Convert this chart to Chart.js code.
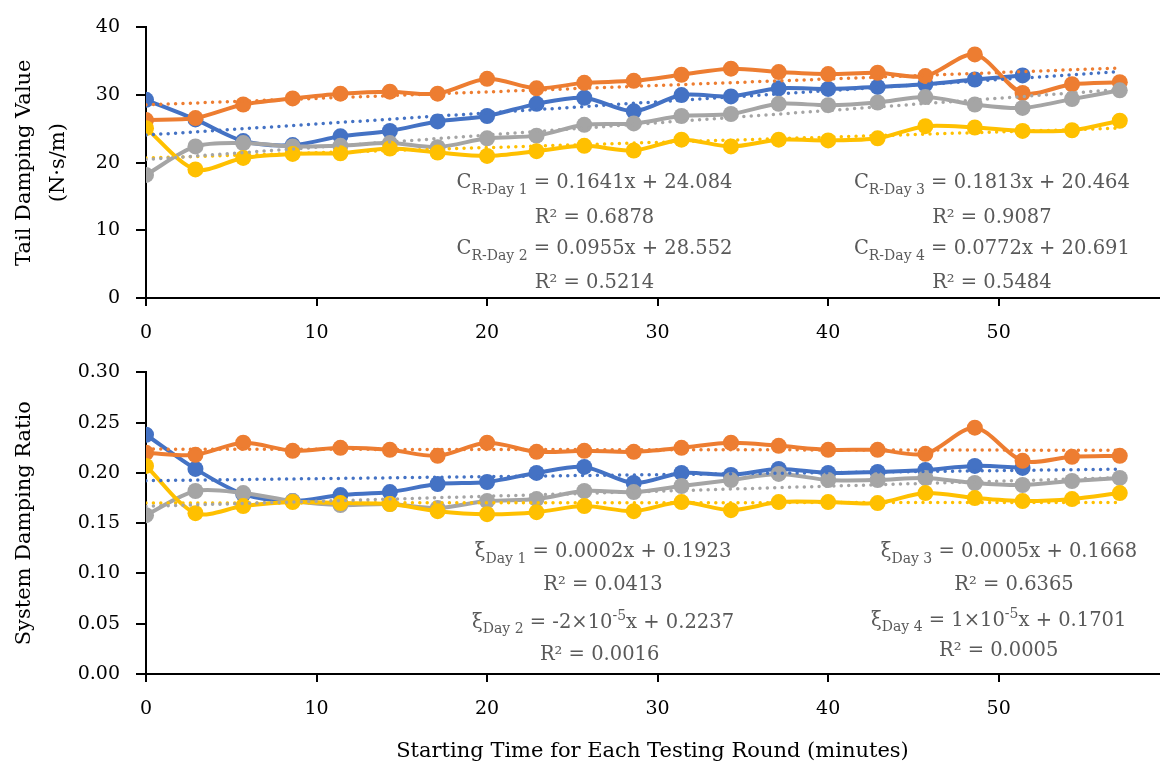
<!DOCTYPE html>
<html>
<head>
<meta charset="utf-8">
<script src="https://cdn.jsdelivr.net/npm/chart.js@4.4.1/dist/chart.umd.min.js"></script>
<style>
    html, body { margin: 0; padding: 0; background: #fff; overflow: hidden; }
    .panel { position: relative; width: 1167px; }
    #tail-panel { height: 345px; }
    #ratio-panel { height: 427px; }
</style>
</head>
<body>
<div class="panel" id="tail-panel"><canvas id="tailChart"></canvas></div>
<div class="panel" id="ratio-panel"><canvas id="ratioChart"></canvas></div>
<script>
// starting time of each testing round (minutes)
const startTimes = [0, 2.9, 5.7, 8.6, 11.4, 14.3, 17.1, 20.0, 22.9, 25.7, 28.6, 31.4, 34.3, 37.1, 40.0, 42.9, 45.7, 48.6, 51.4, 54.3, 57.1];
const dayNames = ['Day 1', 'Day 2', 'Day 3', 'Day 4'];
const dayColors = ['#4472C4', '#ED7D31', '#A5A5A5', '#FFC000'];

// tail damping value C_R (N·s/m)
const tailDay1 = [29.3, 26.4, 23.2, 22.6, 23.9, 24.7, 26.1, 26.9, 28.7, 29.6, 27.6, 30.0, 29.8, 31.0, 30.9, 31.2, 31.6, 32.3, 32.9];
const tailDay2 = [26.3, 26.6, 28.6, 29.5, 30.2, 30.5, 30.2, 32.4, 31.0, 31.8, 32.1, 33.0, 33.9, 33.4, 33.1, 33.3, 32.8, 36.0, 30.3, 31.6, 31.9];
const tailDay3 = [18.2, 22.4, 22.9, 22.4, 22.5, 22.9, 22.3, 23.6, 24.0, 25.6, 25.8, 26.9, 27.2, 28.7, 28.5, 28.9, 29.7, 28.6, 28.1, 29.4, 30.7];
const tailDay4 = [25.1, 19.0, 20.7, 21.3, 21.4, 22.1, 21.5, 21.0, 21.7, 22.5, 21.8, 23.4, 22.4, 23.4, 23.3, 23.6, 25.4, 25.2, 24.7, 24.8, 26.2];

// system damping ratio
const ratioDay1 = [0.238, 0.204, 0.179, 0.172, 0.178, 0.181, 0.189, 0.191, 0.200, 0.206, 0.190, 0.200, 0.198, 0.204, 0.200, 0.201, 0.203, 0.207, 0.205];
const ratioDay2 = [0.220, 0.218, 0.230, 0.222, 0.225, 0.223, 0.217, 0.230, 0.221, 0.222, 0.221, 0.225, 0.230, 0.227, 0.223, 0.223, 0.219, 0.245, 0.212, 0.216, 0.217];
const ratioDay3 = [0.158, 0.182, 0.180, 0.172, 0.168, 0.169, 0.165, 0.172, 0.174, 0.182, 0.181, 0.187, 0.193, 0.199, 0.193, 0.193, 0.195, 0.190, 0.188, 0.192, 0.195];
const ratioDay4 = [0.207, 0.160, 0.167, 0.171, 0.170, 0.169, 0.162, 0.159, 0.161, 0.167, 0.162, 0.171, 0.163, 0.171, 0.171, 0.170, 0.180, 0.175, 0.172, 0.174, 0.180];

// linear fits
const tailSlopes = [0.1641, 0.0955, 0.1813, 0.0772];
const tailIntercepts = [24.084, 28.552, 20.464, 20.691];
const tailR2 = [0.6878, 0.5214, 0.9087, 0.5484];
const ratioSlopes = [0.0002, -0.00002, 0.0005, 0.00001];
const ratioIntercepts = [0.1923, 0.2237, 0.1668, 0.1701];
const ratioR2 = [0.0413, 0.0016, 0.6365, 0.0005];

// axis ticks
const timeTicks = [0, 10, 20, 30, 40, 50];
const tailTicks = [0, 10, 20, 30, 40];
const ratioTicks = [0, 0.05, 0.10, 0.15, 0.20, 0.25, 0.30];

const FAMILY = '"DejaVu Serif", "Liberation Serif", serif';
Chart.defaults.font.family = FAMILY;
Chart.defaults.color = '#000';

function buildDatasets(series, slopes, intercepts) {
    const sets = [];
    const lastX = startTimes[startTimes.length - 1];
    series.forEach((vals, i) => {
        sets.push({
            label: dayNames[i],
            data: vals.map((v, k) => ({ x: startTimes[k], y: v })),
            borderColor: dayColors[i],
            backgroundColor: dayColors[i],
            borderWidth: 4,
            pointRadius: 8,
            pointHoverRadius: 8,
            pointBorderWidth: 0,
            tension: 0.3,
            order: 10 - i
        });
    });
    series.forEach((vals, i) => {
        sets.push({
            label: dayNames[i] + ' fit',
            data: [
                { x: 0, y: intercepts[i] },
                { x: lastX, y: intercepts[i] + slopes[i] * lastX }
            ],
            borderColor: dayColors[i],
            borderWidth: 3.5,
            borderDash: [0, 7.4],
            borderCapStyle: 'round',
            pointRadius: 0,
            tension: 0,
            order: 1
        });
    });
    return sets;
}

function fmtSlope(s, digits) {
    if (Math.abs(s) < 1e-4) {
        const exp = Math.floor(Math.log10(Math.abs(s)));
        const mant = Math.round(s / Math.pow(10, exp));
        return [{ t: mant + '×10' }, { t: String(exp), s: 'sup' }, { t: 'x' }];
    }
    return [{ t: s.toFixed(digits) + 'x' }];
}

function equationParts(symbol, sub, slope, intercept, slopeDigits, icptDigits) {
    return [{ t: symbol }, { t: sub, s: 'sub' }, { t: ' = ' }]
        .concat(fmtSlope(slope, slopeDigits))
        .concat([{ t: ' + ' + intercept.toFixed(icptDigits) }]);
}

function drawRich(ctx, parts, cx, cy) {
    const main = '19.5px ' + FAMILY;
    const small = '14px ' + FAMILY;
    let total = 0;
    parts.forEach(p => {
        ctx.font = p.s ? small : main;
        p.w = ctx.measureText(p.t).width;
        total += p.w;
    });
    let x = cx - total / 2;
    parts.forEach(p => {
        ctx.font = p.s ? small : main;
        const dy = p.s === 'sub' ? 7 : (p.s === 'sup' ? -6 : 0);
        ctx.fillText(p.t, x, cy + dy);
        x += p.w;
    });
}

// equation labels, placed in data coordinates
const fitNotes = {
    id: 'fitNotes',
    afterDatasetsDraw(chart, args, opts) {
        const ctx = chart.ctx;
        const sx = chart.scales.x, sy = chart.scales.y;
        ctx.save();
        ctx.fillStyle = '#595959';
        ctx.textBaseline = 'middle';
        ctx.textAlign = 'left';
        opts.notes.forEach(n => {
            drawRich(ctx, n.parts, sx.getPixelForValue(n.x), sy.getPixelForValue(n.y));
        });
        ctx.restore();
    }
};

function tailNotes() {
    const pos = [[26.3, 17.0, 11.9], [26.3, 7.2, 2.3], [49.6, 17.0, 11.9], [49.6, 7.2, 2.3]];
    const notes = [];
    pos.forEach((p, i) => {
        notes.push({ x: p[0], y: p[1], parts: equationParts('C', 'R-' + dayNames[i], tailSlopes[i], tailIntercepts[i], 4, 3) });
        notes.push({ x: p[0], y: p[2], parts: [{ t: 'R² = ' + tailR2[i].toFixed(4) }] });
    });
    return notes;
}

function ratioNotes() {
    const pos = [[26.8, 26.8, 0.121, 0.089], [26.8, 26.6, 0.051, 0.019], [50.6, 50.9, 0.121, 0.089], [50.0, 50.0, 0.053, 0.023]];
    const notes = [];
    pos.forEach((p, i) => {
        notes.push({ x: p[0], y: p[2], parts: equationParts('ξ', dayNames[i], ratioSlopes[i], ratioIntercepts[i], 4, 4) });
        notes.push({ x: p[1], y: p[3], parts: [{ t: 'R² = ' + ratioR2[i].toFixed(4) }] });
    });
    return notes;
}

function axisStyle(tickLen) {
    return {
        grid: { drawOnChartArea: false, drawTicks: true, tickLength: tickLen, color: '#000', lineWidth: 2 },
        border: { color: '#000', width: 2 }
    };
}

function makeChart(canvasId, series, slopes, intercepts, yTicks, yDigits, yTitle, notes, xTitle, xHeight) {
    const ctx = document.getElementById(canvasId).getContext('2d');
    return new Chart(ctx, {
        type: 'line',
        data: { datasets: buildDatasets(series, slopes, intercepts) },
        options: {
            responsive: true,
            maintainAspectRatio: false,
            animation: false,
            layout: { padding: { top: 22, left: 0, right: 2, bottom: 0 } },
            plugins: {
                legend: { display: false },
                tooltip: { enabled: false },
                fitNotes: { notes: notes }
            },
            scales: {
                x: {
                    type: 'linear',
                    min: 0,
                    max: 59.4,
                    ...axisStyle(8),
                    afterBuildTicks: s => { s.ticks = timeTicks.map(v => ({ value: v })); },
                    ticks: { font: { size: 19 }, padding: 16, maxRotation: 0, color: '#000' },
                    title: {
                        display: !!xTitle,
                        text: xTitle || '',
                        font: { size: 21, lineHeight: 1.2 },
                        color: '#000',
                        padding: { top: 0, bottom: 8 }
                    },
                    afterFit: s => { s.height = xHeight; }
                },
                y: {
                    min: yTicks[0],
                    max: yTicks[yTicks.length - 1],
                    ...axisStyle(10),
                    afterBuildTicks: s => { s.ticks = yTicks.map(v => ({ value: v })); },
                    ticks: {
                        font: { size: 19 },
                        padding: 16,
                        color: '#000',
                        callback: v => Number(v).toFixed(yDigits)
                    },
                    title: {
                        display: true,
                        text: yTitle,
                        font: { size: 21, lineHeight: 1.6 },
                        color: '#000',
                        padding: { top: 8, bottom: 0 }
                    },
                    afterFit: s => { s.width = 146; }
                }
            }
        },
        plugins: [fitNotes]
    });
}

makeChart('tailChart', [tailDay1, tailDay2, tailDay3, tailDay4], tailSlopes, tailIntercepts,
    tailTicks, 0, ['Tail Damping Value', '(N·s/m)'], tailNotes(), null, 47);

makeChart('ratioChart', [ratioDay1, ratioDay2, ratioDay3, ratioDay4], ratioSlopes, ratioIntercepts,
    ratioTicks, 2, 'System Damping Ratio', ratioNotes(), 'Starting Time for Each Testing Round (minutes)', 98);
</script>
</body>
</html>
